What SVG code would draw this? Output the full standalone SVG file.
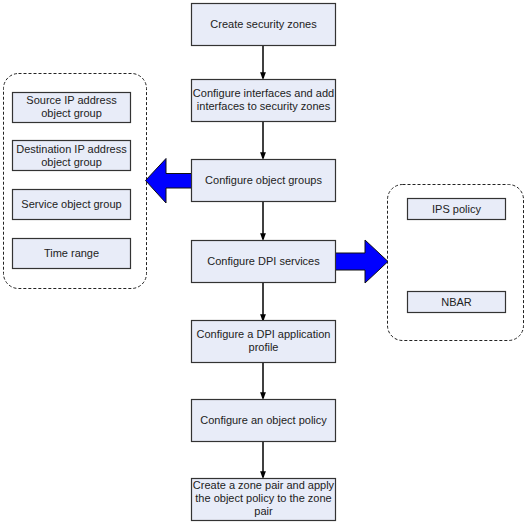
<svg xmlns="http://www.w3.org/2000/svg" width="526" height="523" viewBox="0 0 526 523">
<style>
.box{fill:#e8ecf8;stroke:#333;stroke-width:1.2}
.cont{fill:none;stroke:#222;stroke-width:1;stroke-dasharray:3,2}
.t{font-family:"Liberation Sans",Arial,sans-serif;font-size:11px;fill:#222;text-anchor:middle}
.con{stroke:#000;stroke-width:1.5;fill:none}
.big{fill:#0000ff;stroke:#111;stroke-width:1}
</style>
<defs>
<marker id="ah" markerWidth="8" markerHeight="11" refX="8" refY="4" orient="auto" markerUnits="userSpaceOnUse" viewBox="0 0 11 8">
<path d="M0,0 L11,4 L0,8 Z" fill="#000"/>
</marker>
</defs>
<rect width="526" height="523" fill="#fff"/>
<g id="left-container">
<rect class="cont" x="3.5" y="73.5" width="143" height="215" rx="15"/>
</g>
<g id="right-container">
<rect class="cont" x="387.5" y="184.5" width="136" height="156" rx="15"/>
</g>
<g id="connectors">
<line class="con" x1="263" y1="45" x2="263" y2="78" marker-end="url(#ah)"/>
<line class="con" x1="263" y1="122" x2="263" y2="158" marker-end="url(#ah)"/>
<line class="con" x1="263" y1="202" x2="263" y2="239" marker-end="url(#ah)"/>
<line class="con" x1="263" y1="283" x2="263" y2="320" marker-end="url(#ah)"/>
<line class="con" x1="263" y1="363" x2="263" y2="398" marker-end="url(#ah)"/>
<line class="con" x1="263" y1="442" x2="263" y2="477" marker-end="url(#ah)"/>
<path class="big" d="M191.5,173.5 L166,173.5 L166,158.5 L145.5,180.5 L166,203 L166,188 L191.5,188 Z"/>
<path class="big" d="M335.5,253 L365,253 L365,240 L388,261.5 L365,283 L365,270 L335.5,270 Z"/>
</g>
<g id="n1"><rect class="box" x="191.5" y="3.5" width="144" height="42"/><text class="t" x="263.5" y="28">Create security zones</text></g>
<g id="n2"><rect class="box" x="191.5" y="79.5" width="144" height="42"/><text class="t" x="263.5" y="97">Configure interfaces and add</text><text class="t" x="263.5" y="110">interfaces to security zones</text></g>
<g id="n3"><rect class="box" x="191.5" y="159.5" width="144" height="42"/><text class="t" x="263.5" y="184">Configure object groups</text></g>
<g id="n4"><rect class="box" x="191.5" y="240.5" width="144" height="42"/><text class="t" x="263.5" y="265">Configure DPI services</text></g>
<g id="n5"><rect class="box" x="191.5" y="320.5" width="144" height="42"/><text class="t" x="263.5" y="338">Configure a DPI application</text><text class="t" x="263.5" y="351">profile</text></g>
<g id="n6"><rect class="box" x="191.5" y="399.5" width="144" height="42"/><text class="t" x="263.5" y="424">Configure an object policy</text></g>
<g id="n7"><rect class="box" x="191.5" y="478.5" width="144" height="42"/><text class="t" x="263.5" y="489">Create a zone pair and apply</text><text class="t" x="263.5" y="502">the object policy to the zone</text><text class="t" x="263.5" y="515">pair</text></g>
<g id="l1"><rect class="box" x="12.5" y="92.5" width="118" height="30"/><text class="t" x="71.5" y="104">Source IP address</text><text class="t" x="71.5" y="117">object group</text></g>
<g id="l2"><rect class="box" x="12.5" y="140.5" width="118" height="30"/><text class="t" x="71.5" y="153">Destination IP address</text><text class="t" x="71.5" y="166">object group</text></g>
<g id="l3"><rect class="box" x="12.5" y="189.5" width="118" height="30"/><text class="t" x="71.5" y="208">Service object group</text></g>
<g id="l4"><rect class="box" x="12.5" y="238.5" width="118" height="30"/><text class="t" x="71.5" y="257">Time range</text></g>
<g id="r1"><rect class="box" x="407.5" y="198.5" width="98" height="21"/><text class="t" x="456.5" y="213">IPS policy</text></g>
<g id="r2"><rect class="box" x="407.5" y="291.5" width="98" height="21"/><text class="t" x="456.5" y="306">NBAR</text></g>
</svg>
